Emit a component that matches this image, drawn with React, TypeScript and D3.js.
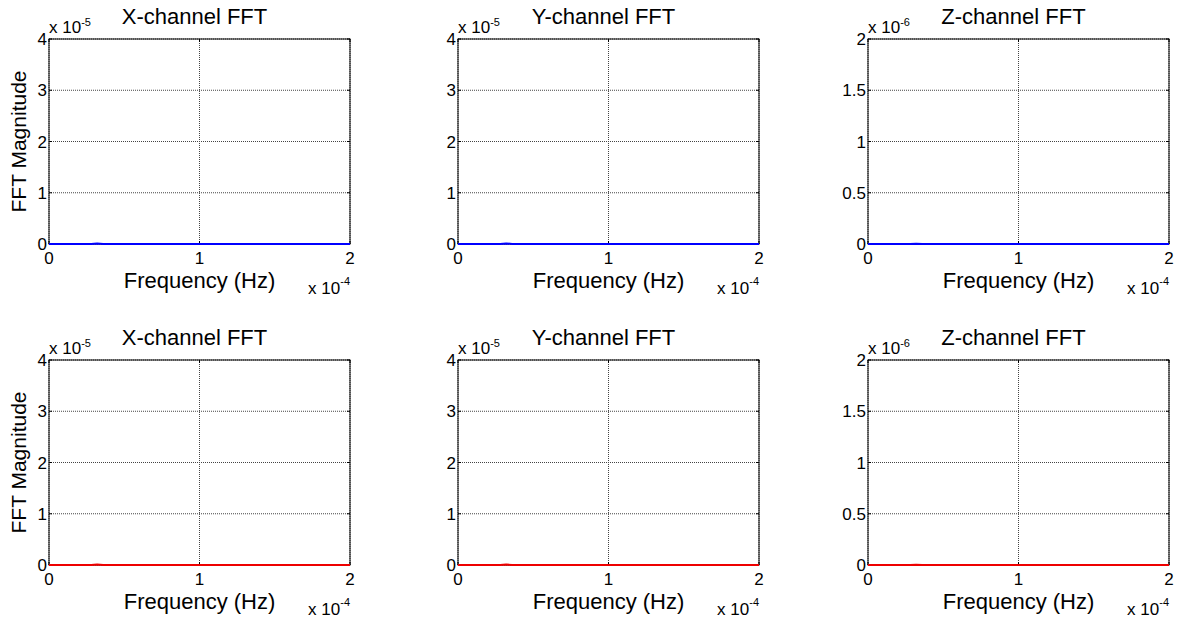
import React from "react";
import * as d3 from "d3";

// Frequency bins (Hz) shared by every channel
const freqHz = [0, 0.1e-4, 0.2e-4, 0.28e-4, 0.32e-4, 0.36e-4, 0.5e-4, 0.75e-4, 1.0e-4, 1.25e-4, 1.5e-4, 1.75e-4, 2.0e-4];

// FFT magnitudes, first data set (blue)
const xMagA = [2e-8, 1e-8, 1e-8, 2e-8, 1.2e-7, 2e-8, 1e-8, 1e-8, 1e-8, 1e-8, 1e-8, 1e-8, 1e-8];
const yMagA = [2e-8, 1e-8, 1e-8, 2e-8, 1.0e-7, 2e-8, 1e-8, 1e-8, 1e-8, 1e-8, 1e-8, 1e-8, 1e-8];
const zMagA = [1e-9, 5e-10, 5e-10, 1e-9, 3e-9, 1e-9, 5e-10, 5e-10, 5e-10, 5e-10, 5e-10, 5e-10, 5e-10];

// FFT magnitudes, second data set (red)
const xMagB = [2e-8, 1e-8, 1e-8, 2e-8, 1.1e-7, 2e-8, 1e-8, 1e-8, 1e-8, 1e-8, 1e-8, 1e-8, 1e-8];
const yMagB = [2e-8, 1e-8, 1e-8, 2e-8, 0.9e-7, 2e-8, 1e-8, 1e-8, 1e-8, 1e-8, 1e-8, 1e-8, 1e-8];
const zMagB = [1e-9, 5e-10, 5e-10, 1e-9, 3e-9, 1e-9, 5e-10, 5e-10, 5e-10, 5e-10, 5e-10, 5e-10, 5e-10];

const titles = ["X-channel FFT", "Y-channel FFT", "Z-channel FFT"];
const xTicks = [0, 1e-4, 2e-4];
const xTickLabels = ["0", "1", "2"];
const yTicksXY = [0, 1e-5, 2e-5, 3e-5, 4e-5];
const yTickLabelsXY = ["0", "1", "2", "3", "4"];
const yTicksZ = [0, 0.5e-6, 1e-6, 1.5e-6, 2e-6];
const yTickLabelsZ = ["0", "0.5", "1", "1.5", "2"];

const FONT = "'Liberation Sans', Arial, Helvetica, sans-serif";
const W = 1180;
const H = 620;

const colLefts = [49, 458, 868];
const axW = 301;
const rowTops = [39, 360];
const axH = 205;

type PanelProps = {
  left: number;
  top: number;
  title: string;
  values: number[];
  yTicks: number[];
  yTickLabels: string[];
  yExp: string;
  color: string;
  showYLabel: boolean;
};

function Panel({ left, top, title, values, yTicks, yTickLabels, yExp, color, showYLabel }: PanelProps) {
  const x = d3.scaleLinear().domain([0, 2e-4]).range([left, left + axW]);
  const y = d3.scaleLinear().domain([yTicks[0], yTicks[yTicks.length - 1]]).range([top + axH, top]);
  const line = d3
    .line<number>()
    .x((_, i) => x(freqHz[i]))
    .y((d) => y(d));
  const bottom = top + axH;
  const right = left + axW;
  const tickLen = 3;

  return (
    <g>
      {/* dotted grid */}
      {xTicks.map((t, i) => (
        <line key={"gx" + i} x1={x(t)} x2={x(t)} y1={top} y2={bottom} stroke="#444" strokeWidth={1} strokeDasharray="1,1" />
      ))}
      {yTicks.map((t, i) => (
        <line key={"gy" + i} x1={left} x2={right} y1={y(t)} y2={y(t)} stroke="#444" strokeWidth={1} strokeDasharray="1,1" />
      ))}
      {/* inward tick marks on all sides */}
      {xTicks.map((t, i) => (
        <g key={"tx" + i}>
          <line x1={x(t)} x2={x(t)} y1={bottom} y2={bottom - tickLen} stroke="#000" />
          <line x1={x(t)} x2={x(t)} y1={top} y2={top + tickLen} stroke="#000" />
        </g>
      ))}
      {yTicks.map((t, i) => (
        <g key={"ty" + i}>
          <line x1={left} x2={left + tickLen} y1={y(t)} y2={y(t)} stroke="#000" />
          <line x1={right} x2={right - tickLen} y1={y(t)} y2={y(t)} stroke="#000" />
        </g>
      ))}
      {/* axes box */}
      <rect x={left} y={top} width={axW} height={axH} fill="none" stroke="#000" strokeWidth={1} />
      {/* spectrum */}
      <path d={line(values) || ""} fill="none" stroke={color} strokeWidth={2} />
      {/* tick labels */}
      {xTicks.map((t, i) => (
        <text key={"lx" + i} x={x(t)} y={bottom + 20} fontSize={17} textAnchor="middle" fontFamily={FONT}>
          {xTickLabels[i]}
        </text>
      ))}
      {yTicks.map((t, i) => (
        <text key={"ly" + i} x={left - 2} y={y(t) + 6} fontSize={17} textAnchor="end" fontFamily={FONT}>
          {yTickLabels[i]}
        </text>
      ))}
      {/* exponent labels */}
      <text x={left} y={top - 6} fontSize={17} fontFamily={FONT}>
        x 10<tspan dy={-7} fontSize={11}>{yExp}</tspan>
      </text>
      <text x={right} y={bottom + 50} fontSize={17} fontFamily={FONT} textAnchor="end">
        x 10<tspan dy={-9} fontSize={11}>-4</tspan>
      </text>
      {/* title and axis labels */}
      <text x={(left + right) / 2 - 5} y={top - 15} fontSize={22} textAnchor="middle" fontFamily={FONT}>
        {title}
      </text>
      <text x={(left + right) / 2} y={bottom + 44} fontSize={22} textAnchor="middle" fontFamily={FONT}>
        Frequency (Hz)
      </text>
      {showYLabel && (
        <text
          transform={`translate(${left - 23},${(top + bottom) / 2}) rotate(-90)`}
          fontSize={21}
          textAnchor="middle"
          fontFamily={FONT}
        >
          FFT Magnitude
        </text>
      )}
    </g>
  );
}

export default function App() {
  const rows = [
    { values: [xMagA, yMagA, zMagA], color: "#0000ff" },
    { values: [xMagB, yMagB, zMagB], color: "#ee0000" },
  ];
  return (
    <svg width={W} height={H} style={{ position: "fixed", left: 0, top: 0, background: "#fff" }}>
      <rect x={0} y={0} width={W} height={H} fill="#fff" />
      {rows.map((row, r) =>
        colLefts.map((left, c) => {
          const isZ = c === 2;
          return (
            <Panel
              key={`${r}-${c}`}
              left={left}
              top={rowTops[r]}
              title={titles[c]}
              values={row.values[c]}
              yTicks={isZ ? yTicksZ : yTicksXY}
              yTickLabels={isZ ? yTickLabelsZ : yTickLabelsXY}
              yExp={isZ ? "-6" : "-5"}
              color={row.color}
              showYLabel={c === 0}
            />
          );
        })
      )}
    </svg>
  );
}
